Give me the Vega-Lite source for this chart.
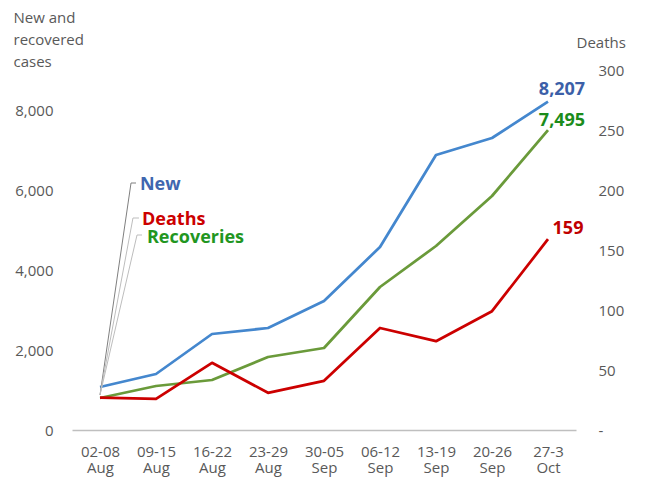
{
  "$schema": "https://vega.github.io/schema/vega-lite/v6.json",
  "width": 504,
  "height": 360,
  "autosize": {"type": "none"},
  "padding": {"left": 72, "top": 70, "right": 70, "bottom": 49},
  "background": "white",
  "config": {
    "view": {"stroke": null},
    "font": "Open Sans",
    "axis": {
      "labelFont": "Open Sans",
      "labelFontSize": 15,
      "labelColor": "#595959",
      "titleFont": "Open Sans",
      "titleFontSize": 15,
      "titleFontWeight": "normal",
      "titleColor": "#595959",
      "ticks": false,
      "grid": false,
      "domain": false
    }
  },
  "datasets": {
    "cases": [
      {"i": 0, "week": "02-08 Aug", "series": "New", "value": 1075},
      {"i": 1, "week": "09-15 Aug", "series": "New", "value": 1400},
      {"i": 2, "week": "16-22 Aug", "series": "New", "value": 2400},
      {"i": 3, "week": "23-29 Aug", "series": "New", "value": 2550},
      {"i": 4, "week": "30-05 Sep", "series": "New", "value": 3225},
      {"i": 5, "week": "06-12 Sep", "series": "New", "value": 4575},
      {"i": 6, "week": "13-19 Sep", "series": "New", "value": 6875},
      {"i": 7, "week": "20-26 Sep", "series": "New", "value": 7300},
      {"i": 8, "week": "27-3 Oct", "series": "New", "value": 8207},
      {"i": 0, "week": "02-08 Aug", "series": "Recoveries", "value": 800},
      {"i": 1, "week": "09-15 Aug", "series": "Recoveries", "value": 1100},
      {"i": 2, "week": "16-22 Aug", "series": "Recoveries", "value": 1250},
      {"i": 3, "week": "23-29 Aug", "series": "Recoveries", "value": 1825},
      {"i": 4, "week": "30-05 Sep", "series": "Recoveries", "value": 2050},
      {"i": 5, "week": "06-12 Sep", "series": "Recoveries", "value": 3575},
      {"i": 6, "week": "13-19 Sep", "series": "Recoveries", "value": 4600},
      {"i": 7, "week": "20-26 Sep", "series": "Recoveries", "value": 5850},
      {"i": 8, "week": "27-3 Oct", "series": "Recoveries", "value": 7495}
    ],
    "deaths": [
      {"i": 0, "week": "02-08 Aug", "deaths": 27},
      {"i": 1, "week": "09-15 Aug", "deaths": 26},
      {"i": 2, "week": "16-22 Aug", "deaths": 56},
      {"i": 3, "week": "23-29 Aug", "deaths": 31},
      {"i": 4, "week": "30-05 Sep", "deaths": 41},
      {"i": 5, "week": "06-12 Sep", "deaths": 85},
      {"i": 6, "week": "13-19 Sep", "deaths": 74},
      {"i": 7, "week": "20-26 Sep", "deaths": 99},
      {"i": 8, "week": "27-3 Oct", "deaths": 159}
    ],
    "leaders": [
      {"label": "New", "step": 0, "i": 0, "value": 875},
      {"label": "New", "step": 1, "i": 0.554, "value": 6175},
      {"label": "New", "step": 2, "i": 0.643, "value": 6175},
      {"label": "Deaths", "step": 0, "i": 0, "value": 875},
      {"label": "Deaths", "step": 1, "i": 0.589, "value": 5300},
      {"label": "Deaths", "step": 2, "i": 0.696, "value": 5300},
      {"label": "Recoveries", "step": 0, "i": 0, "value": 875},
      {"label": "Recoveries", "step": 1, "i": 0.661, "value": 4875},
      {"label": "Recoveries", "step": 2, "i": 0.75, "value": 4875}
    ],
    "tags": [
      {"label": "New", "i": 0.714, "value": 6000},
      {"label": "Deaths", "i": 0.75, "value": 5125},
      {"label": "Recoveries", "i": 0.839, "value": 4675}
    ]
  },
  "encoding": {
    "x": {
      "field": "i",
      "type": "quantitative",
      "scale": {"domain": [-0.5, 8.5], "nice": false, "zero": false},
      "axis": {
        "title": null,
        "values": [0, 1, 2, 3, 4, 5, 6, 7, 8],
        "domain": true,
        "domainColor": "#BFBFBF",
        "domainWidth": 1.5,
        "labelBaseline": "top",
        "labelPadding": 14,
        "labelLineHeight": 16,
        "labelFlush": false,
        "labelOverlap": false,
        "labelExpr": "split(['02-08|Aug','09-15|Aug','16-22|Aug','23-29|Aug','30-05|Sep','06-12|Sep','13-19|Sep','20-26|Sep','27-3|Oct'][datum.value], '|')"
      }
    }
  },
  "layer": [
    {
      "encoding": {
        "y": {
          "field": "value",
          "type": "quantitative",
          "scale": {"domain": [0, 9000], "nice": false},
          "axis": {
            "orient": "left",
            "values": [0, 2000, 4000, 6000, 8000],
            "format": ",.0f",
            "labelPadding": 19,
            "title": ["New and", "recovered", "cases"],
            "titleAngle": 0,
            "titleAlign": "left",
            "titleBaseline": "alphabetic",
            "titleLineHeight": 22,
            "titleX": -59,
            "titleY": -48
          }
        }
      },
      "layer": [
        {
          "data": {"name": "cases"},
          "mark": {"type": "line", "strokeWidth": 2.75, "strokeJoin": "round"},
          "encoding": {
            "color": {
              "field": "series",
              "type": "nominal",
              "scale": {"domain": ["New", "Recoveries"], "range": ["#4487CE", "#6A9A3A"]},
              "legend": null
            }
          }
        },
        {
          "data": {"name": "leaders"},
          "mark": {"type": "line", "strokeWidth": 1},
          "encoding": {
            "detail": {"field": "label"},
            "order": {"field": "step"},
            "color": {
              "condition": {"test": "datum.label == 'New'", "value": "#7F7F7F"},
              "value": "#BDBDBD"
            }
          }
        },
        {
          "data": {"name": "tags"},
          "mark": {"type": "text", "align": "left", "baseline": "alphabetic", "fontSize": 18, "fontWeight": "bold", "font": "Open Sans"},
          "encoding": {
            "text": {"field": "label"},
            "color": {
              "condition": [
                {"test": "datum.label == 'New'", "value": "#3F66AF"},
                {"test": "datum.label == 'Deaths'", "value": "#CC0000"}
              ],
              "value": "#22961F"
            }
          }
        },
        {
          "data": {"name": "cases"},
          "transform": [{"filter": "datum.i == 8 && datum.series == 'New'"}],
          "mark": {"type": "text", "align": "center", "baseline": "alphabetic", "dx": 14, "dy": -7, "fontSize": 18, "fontWeight": "bold", "font": "Open Sans", "color": "#3C5FA8"},
          "encoding": {"text": {"field": "value", "format": ",.0f"}}
        },
        {
          "data": {"name": "cases"},
          "transform": [{"filter": "datum.i == 8 && datum.series == 'Recoveries'"}],
          "mark": {"type": "text", "align": "center", "baseline": "alphabetic", "dx": 14, "dy": -4, "fontSize": 18, "fontWeight": "bold", "font": "Open Sans", "color": "#1B8C1B"},
          "encoding": {"text": {"field": "value", "format": ",.0f"}}
        }
      ]
    },
    {
      "data": {"name": "deaths"},
      "encoding": {
        "y": {
          "field": "deaths",
          "type": "quantitative",
          "scale": {"domain": [0, 300], "nice": false},
          "axis": {
            "orient": "right",
            "values": [0, 50, 100, 150, 200, 250, 300],
            "labelPadding": 22,
            "labelExpr": "datum.value == 0 ? '-' : datum.label",
            "title": "Deaths",
            "titleAngle": 0,
            "titleAlign": "left",
            "titleBaseline": "alphabetic",
            "titleX": 0,
            "titleY": -23
          }
        }
      },
      "layer": [
        {
          "mark": {"type": "line", "strokeWidth": 2.75, "strokeJoin": "round", "color": "#CC0000"}
        },
        {
          "transform": [{"filter": "datum.i == 8"}],
          "mark": {"type": "text", "align": "center", "baseline": "alphabetic", "dx": 20, "dy": -5, "fontSize": 18, "fontWeight": "bold", "font": "Open Sans", "color": "#C00000"},
          "encoding": {"text": {"field": "deaths"}}
        }
      ]
    }
  ],
  "resolve": {"scale": {"y": "independent"}}
}
